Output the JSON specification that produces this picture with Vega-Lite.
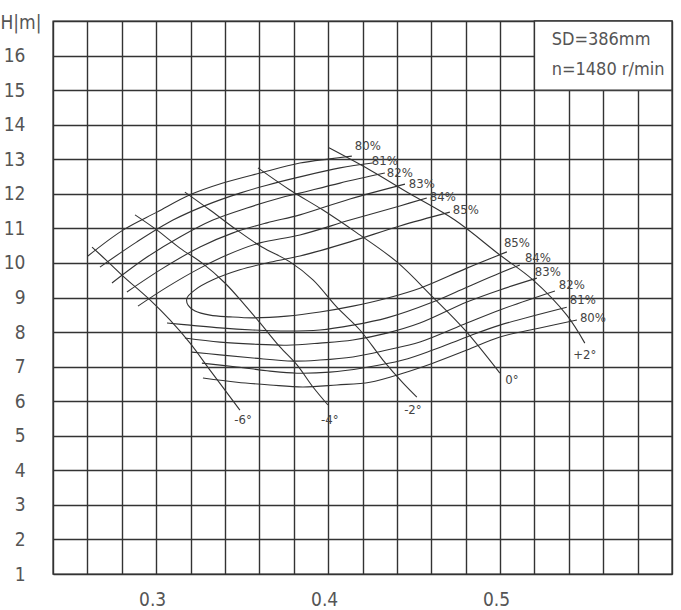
{
  "$schema": "https://vega.github.io/schema/vega-lite/v6.json",
  "width": 619,
  "height": 553,
  "autosize": {"type": "none"},
  "padding": {"left": 53, "top": 21, "right": 9, "bottom": 36},
  "background": "white",
  "config": {
    "view": {"stroke": "#333333", "strokeWidth": 1.4},
    "font": "DejaVu Sans Condensed, sans-serif"
  },
  "datasets": {
    "curves": [
      {"c": "u80", "i": 1, "x": 0.2603, "y": 10.20}, {"c": "u80", "i": 2, "x": 0.2807, "y": 10.95}, {"c": "u80", "i": 3, "x": 0.3005, "y": 11.47}, {"c": "u80", "i": 4, "x": 0.3197, "y": 11.97}, {"c": "u80", "i": 5, "x": 0.3388, "y": 12.31}, {"c": "u80", "i": 6, "x": 0.3603, "y": 12.60}, {"c": "u80", "i": 7, "x": 0.3836, "y": 12.89}, {"c": "u80", "i": 8, "x": 0.4010, "y": 13.01}, {"c": "u80", "i": 9, "x": 0.4138, "y": 13.09},
      {"c": "u81", "i": 1, "x": 0.2673, "y": 9.88}, {"c": "u81", "i": 2, "x": 0.2888, "y": 10.61}, {"c": "u81", "i": 3, "x": 0.3098, "y": 11.24}, {"c": "u81", "i": 4, "x": 0.3295, "y": 11.68}, {"c": "u81", "i": 5, "x": 0.3487, "y": 12.02}, {"c": "u81", "i": 6, "x": 0.3644, "y": 12.25}, {"c": "u81", "i": 7, "x": 0.3836, "y": 12.49}, {"c": "u81", "i": 8, "x": 0.4069, "y": 12.75}, {"c": "u81", "i": 9, "x": 0.4260, "y": 12.89},
      {"c": "u82", "i": 1, "x": 0.2743, "y": 9.42}, {"c": "u82", "i": 2, "x": 0.2947, "y": 10.17}, {"c": "u82", "i": 3, "x": 0.3138, "y": 10.75}, {"c": "u82", "i": 4, "x": 0.3330, "y": 11.24}, {"c": "u82", "i": 5, "x": 0.3528, "y": 11.59}, {"c": "u82", "i": 6, "x": 0.3720, "y": 11.88}, {"c": "u82", "i": 7, "x": 0.3836, "y": 12.02}, {"c": "u82", "i": 8, "x": 0.4069, "y": 12.31}, {"c": "u82", "i": 9, "x": 0.4330, "y": 12.60},
      {"c": "u83", "i": 1, "x": 0.2830, "y": 9.16}, {"c": "u83", "i": 2, "x": 0.3040, "y": 9.85}, {"c": "u83", "i": 3, "x": 0.3255, "y": 10.46}, {"c": "u83", "i": 4, "x": 0.3447, "y": 10.87}, {"c": "u83", "i": 5, "x": 0.3644, "y": 11.16}, {"c": "u83", "i": 6, "x": 0.3836, "y": 11.39}, {"c": "u83", "i": 7, "x": 0.4127, "y": 11.85}, {"c": "u83", "i": 8, "x": 0.4447, "y": 12.28},
      {"c": "u84", "i": 1, "x": 0.2894, "y": 8.75}, {"c": "u84", "i": 2, "x": 0.3063, "y": 9.30}, {"c": "u84", "i": 3, "x": 0.3255, "y": 9.85}, {"c": "u84", "i": 4, "x": 0.3412, "y": 10.23}, {"c": "u84", "i": 5, "x": 0.3603, "y": 10.58}, {"c": "u84", "i": 6, "x": 0.3836, "y": 10.81}, {"c": "u84", "i": 7, "x": 0.4127, "y": 11.24}, {"c": "u84", "i": 8, "x": 0.4417, "y": 11.65}, {"c": "u84", "i": 9, "x": 0.4574, "y": 11.88},
      {"c": "e85", "i": 1, "x": 0.4708, "y": 11.47}, {"c": "e85", "i": 2, "x": 0.4417, "y": 11.07}, {"c": "e85", "i": 3, "x": 0.4127, "y": 10.61}, {"c": "e85", "i": 4, "x": 0.3836, "y": 10.20}, {"c": "e85", "i": 5, "x": 0.3644, "y": 10.00}, {"c": "e85", "i": 6, "x": 0.3487, "y": 9.80}, {"c": "e85", "i": 7, "x": 0.3330, "y": 9.51}, {"c": "e85", "i": 8, "x": 0.3226, "y": 9.22}, {"c": "e85", "i": 9, "x": 0.3179, "y": 8.98}, {"c": "e85", "i": 10, "x": 0.3185, "y": 8.78}, {"c": "e85", "i": 11, "x": 0.3226, "y": 8.61}, {"c": "e85", "i": 12, "x": 0.3313, "y": 8.49}, {"c": "e85", "i": 13, "x": 0.3429, "y": 8.44}, {"c": "e85", "i": 14, "x": 0.3563, "y": 8.41}, {"c": "e85", "i": 15, "x": 0.3760, "y": 8.46}, {"c": "e85", "i": 16, "x": 0.3952, "y": 8.58}, {"c": "e85", "i": 17, "x": 0.4144, "y": 8.75}, {"c": "e85", "i": 18, "x": 0.4342, "y": 8.98}, {"c": "e85", "i": 19, "x": 0.4534, "y": 9.27}, {"c": "e85", "i": 20, "x": 0.4807, "y": 9.85}, {"c": "e85", "i": 21, "x": 0.5040, "y": 10.32},
      {"c": "l84", "i": 1, "x": 0.3063, "y": 8.26}, {"c": "l84", "i": 2, "x": 0.3197, "y": 8.20}, {"c": "l84", "i": 3, "x": 0.3371, "y": 8.12}, {"c": "l84", "i": 4, "x": 0.3563, "y": 8.06}, {"c": "l84", "i": 5, "x": 0.3760, "y": 8.03}, {"c": "l84", "i": 6, "x": 0.3952, "y": 8.06}, {"c": "l84", "i": 7, "x": 0.4144, "y": 8.20}, {"c": "l84", "i": 8, "x": 0.4342, "y": 8.41}, {"c": "l84", "i": 9, "x": 0.4609, "y": 8.87}, {"c": "l84", "i": 10, "x": 0.4807, "y": 9.30}, {"c": "l84", "i": 11, "x": 0.4999, "y": 9.71}, {"c": "l84", "i": 12, "x": 0.5115, "y": 9.94},
      {"c": "l83", "i": 1, "x": 0.3167, "y": 7.83}, {"c": "l83", "i": 2, "x": 0.3371, "y": 7.71}, {"c": "l83", "i": 3, "x": 0.3563, "y": 7.65}, {"c": "l83", "i": 4, "x": 0.3760, "y": 7.62}, {"c": "l83", "i": 5, "x": 0.3952, "y": 7.68}, {"c": "l83", "i": 6, "x": 0.4144, "y": 7.77}, {"c": "l83", "i": 7, "x": 0.4342, "y": 7.97}, {"c": "l83", "i": 8, "x": 0.4534, "y": 8.26}, {"c": "l83", "i": 9, "x": 0.4807, "y": 8.87}, {"c": "l83", "i": 10, "x": 0.4999, "y": 9.22}, {"c": "l83", "i": 11, "x": 0.5214, "y": 9.56},
      {"c": "l82", "i": 1, "x": 0.3208, "y": 7.42}, {"c": "l82", "i": 2, "x": 0.3371, "y": 7.34}, {"c": "l82", "i": 3, "x": 0.3563, "y": 7.25}, {"c": "l82", "i": 4, "x": 0.3795, "y": 7.16}, {"c": "l82", "i": 5, "x": 0.3952, "y": 7.19}, {"c": "l82", "i": 6, "x": 0.4144, "y": 7.28}, {"c": "l82", "i": 7, "x": 0.4342, "y": 7.48}, {"c": "l82", "i": 8, "x": 0.4534, "y": 7.71}, {"c": "l82", "i": 9, "x": 0.4807, "y": 8.26}, {"c": "l82", "i": 10, "x": 0.4999, "y": 8.64}, {"c": "l82", "i": 11, "x": 0.5319, "y": 9.19},
      {"c": "l81", "i": 1, "x": 0.3266, "y": 7.10}, {"c": "l81", "i": 2, "x": 0.3470, "y": 6.99}, {"c": "l81", "i": 3, "x": 0.3662, "y": 6.87}, {"c": "l81", "i": 4, "x": 0.3819, "y": 6.81}, {"c": "l81", "i": 5, "x": 0.4010, "y": 6.84}, {"c": "l81", "i": 6, "x": 0.4202, "y": 6.96}, {"c": "l81", "i": 7, "x": 0.4435, "y": 7.19}, {"c": "l81", "i": 8, "x": 0.4609, "y": 7.48}, {"c": "l81", "i": 9, "x": 0.4807, "y": 7.86}, {"c": "l81", "i": 10, "x": 0.4999, "y": 8.20}, {"c": "l81", "i": 11, "x": 0.5388, "y": 8.72},
      {"c": "l80", "i": 1, "x": 0.3272, "y": 6.67}, {"c": "l80", "i": 2, "x": 0.3470, "y": 6.55}, {"c": "l80", "i": 3, "x": 0.3662, "y": 6.47}, {"c": "l80", "i": 4, "x": 0.3853, "y": 6.41}, {"c": "l80", "i": 5, "x": 0.4051, "y": 6.47}, {"c": "l80", "i": 6, "x": 0.4243, "y": 6.55}, {"c": "l80", "i": 7, "x": 0.4435, "y": 6.81}, {"c": "l80", "i": 8, "x": 0.4609, "y": 7.10}, {"c": "l80", "i": 9, "x": 0.4807, "y": 7.48}, {"c": "l80", "i": 10, "x": 0.4999, "y": 7.86}, {"c": "l80", "i": 11, "x": 0.5231, "y": 8.12}, {"c": "l80", "i": 12, "x": 0.5447, "y": 8.35},
      {"c": "b-6", "i": 1, "x": 0.2627, "y": 10.46}, {"c": "b-6", "i": 2, "x": 0.2720, "y": 10.03}, {"c": "b-6", "i": 3, "x": 0.2807, "y": 9.62}, {"c": "b-6", "i": 4, "x": 0.2964, "y": 8.93}, {"c": "b-6", "i": 5, "x": 0.3080, "y": 8.35}, {"c": "b-6", "i": 6, "x": 0.3197, "y": 7.68}, {"c": "b-6", "i": 7, "x": 0.3313, "y": 6.90}, {"c": "b-6", "i": 8, "x": 0.3487, "y": 5.74},
      {"c": "b-4", "i": 1, "x": 0.2877, "y": 11.39}, {"c": "b-4", "i": 2, "x": 0.3005, "y": 10.95}, {"c": "b-4", "i": 3, "x": 0.3138, "y": 10.43}, {"c": "b-4", "i": 4, "x": 0.3266, "y": 10.00}, {"c": "b-4", "i": 5, "x": 0.3400, "y": 9.42}, {"c": "b-4", "i": 6, "x": 0.3516, "y": 8.78}, {"c": "b-4", "i": 7, "x": 0.3615, "y": 8.20}, {"c": "b-4", "i": 8, "x": 0.3720, "y": 7.57}, {"c": "b-4", "i": 9, "x": 0.3819, "y": 7.05}, {"c": "b-4", "i": 10, "x": 0.3912, "y": 6.41}, {"c": "b-4", "i": 11, "x": 0.3999, "y": 5.89},
      {"c": "b-2", "i": 1, "x": 0.3167, "y": 12.05}, {"c": "b-2", "i": 2, "x": 0.3313, "y": 11.53}, {"c": "b-2", "i": 3, "x": 0.3470, "y": 10.95}, {"c": "b-2", "i": 4, "x": 0.3615, "y": 10.46}, {"c": "b-2", "i": 5, "x": 0.3778, "y": 10.03}, {"c": "b-2", "i": 6, "x": 0.3912, "y": 9.51}, {"c": "b-2", "i": 7, "x": 0.4051, "y": 8.72}, {"c": "b-2", "i": 8, "x": 0.4185, "y": 8.06}, {"c": "b-2", "i": 9, "x": 0.4319, "y": 7.19}, {"c": "b-2", "i": 10, "x": 0.4435, "y": 6.53}, {"c": "b-2", "i": 11, "x": 0.4516, "y": 6.12},
      {"c": "b0", "i": 1, "x": 0.3592, "y": 12.75}, {"c": "b0", "i": 2, "x": 0.3778, "y": 12.11}, {"c": "b0", "i": 3, "x": 0.3970, "y": 11.53}, {"c": "b0", "i": 4, "x": 0.4167, "y": 10.87}, {"c": "b0", "i": 5, "x": 0.4400, "y": 10.03}, {"c": "b0", "i": 6, "x": 0.4609, "y": 9.01}, {"c": "b0", "i": 7, "x": 0.4795, "y": 8.06}, {"c": "b0", "i": 8, "x": 0.4999, "y": 6.81},
      {"c": "b2", "i": 1, "x": 0.4005, "y": 13.33}, {"c": "b2", "i": 2, "x": 0.4243, "y": 12.69}, {"c": "b2", "i": 3, "x": 0.4476, "y": 12.00}, {"c": "b2", "i": 4, "x": 0.4737, "y": 11.24}, {"c": "b2", "i": 5, "x": 0.4999, "y": 10.23}, {"c": "b2", "i": 6, "x": 0.5191, "y": 9.51}, {"c": "b2", "i": 7, "x": 0.5388, "y": 8.49}, {"c": "b2", "i": 8, "x": 0.5493, "y": 7.68}
    ],
    "labels": [
      {"t": "-6°", "x": 0.3505, "y": 5.45},
      {"t": "-4°", "x": 0.4010, "y": 5.45},
      {"t": "-2°", "x": 0.4493, "y": 5.74},
      {"t": "0°", "x": 0.5069, "y": 6.61},
      {"t": "+2°", "x": 0.5493, "y": 7.34},
      {"t": "80%", "x": 0.4231, "y": 13.38},
      {"t": "81%", "x": 0.4330, "y": 12.95},
      {"t": "82%", "x": 0.4417, "y": 12.60},
      {"t": "83%", "x": 0.4545, "y": 12.28},
      {"t": "84%", "x": 0.4667, "y": 11.91},
      {"t": "85%", "x": 0.4801, "y": 11.53},
      {"t": "85%", "x": 0.5098, "y": 10.58},
      {"t": "84%", "x": 0.5220, "y": 10.14},
      {"t": "83%", "x": 0.5278, "y": 9.74},
      {"t": "82%", "x": 0.5417, "y": 9.36},
      {"t": "81%", "x": 0.5481, "y": 8.93},
      {"t": "80%", "x": 0.5540, "y": 8.41}
    ],
    "box": [{"x": 0.52, "x2": 0.60, "y": 15, "y2": 17}],
    "boxtext": [
      {"t": "SD=386mm", "x": 0.5300, "y": 16.45},
      {"t": "n=1480 r/min", "x": 0.5300, "y": 15.58}
    ]
  },
  "encoding": {
    "x": {
      "field": "x", "type": "quantitative",
      "scale": {"domain": [0.24, 0.60], "nice": false, "zero": false},
      "axis": {
        "title": null,
        "values": [0.24, 0.26, 0.28, 0.30, 0.32, 0.34, 0.36, 0.38, 0.40, 0.42, 0.44, 0.46, 0.48, 0.50, 0.52, 0.54, 0.56, 0.58, 0.60],
        "labelExpr": "(abs(datum.value-0.3)<0.001 || abs(datum.value-0.4)<0.001 || abs(datum.value-0.5)<0.001) ? format(datum.value, '.1f') : ''",
        "grid": true, "gridColor": "#333333", "gridWidth": 1.4, "gridOpacity": 1,
        "ticks": false, "domain": false,
        "labelFont": "DejaVu Sans Condensed, sans-serif",
        "labelFontSize": 19, "labelColor": "#555555", "labelPadding": 16, "labelOffset": -4,
        "labelFlush": false
      }
    },
    "y": {
      "field": "y", "type": "quantitative",
      "scale": {"domain": [1, 17], "nice": false, "zero": false},
      "axis": {
        "title": "H|m|", "titleAngle": 0, "titleX": -53, "titleY": 1, "titleAlign": "left", "titleBaseline": "middle",
        "titleFont": "DejaVu Sans Condensed, sans-serif",
        "titleFontSize": 19, "titleFontWeight": "normal", "titleColor": "#555555",
        "values": [1, 2, 3, 4, 5, 6, 7, 8, 9, 10, 11, 12, 13, 14, 15, 16, 17],
        "labelExpr": "datum.value == 17 ? '' : datum.label",
        "grid": true, "gridColor": "#333333", "gridWidth": 1.4, "gridOpacity": 1,
        "ticks": false, "domain": false,
        "labelFont": "DejaVu Sans Condensed, sans-serif",
        "labelFontSize": 19, "labelColor": "#555555", "labelPadding": 28,
        "labelFlush": false
      }
    }
  },
  "layer": [
    {
      "data": {"name": "box"},
      "mark": {"type": "rect", "fill": "white", "stroke": "#333333", "strokeWidth": 1.4},
      "encoding": {"x2": {"field": "x2"}, "y2": {"field": "y2"}}
    },
    {
      "data": {"name": "curves"},
      "mark": {"type": "line", "stroke": "#333333", "strokeWidth": 1.1, "interpolate": "catmull-rom"},
      "encoding": {"detail": {"field": "c"}, "order": {"field": "i", "type": "quantitative"}}
    },
    {
      "data": {"name": "labels"},
      "mark": {"type": "text", "fontSize": 13, "fill": "#444444", "align": "center", "baseline": "middle", "font": "DejaVu Sans Condensed, sans-serif"},
      "encoding": {"text": {"field": "t"}}
    },
    {
      "data": {"name": "boxtext"},
      "mark": {"type": "text", "fontSize": 18, "fill": "#555555", "align": "left", "baseline": "middle", "font": "DejaVu Sans Condensed, sans-serif"},
      "encoding": {"text": {"field": "t"}}
    }
  ]
}
